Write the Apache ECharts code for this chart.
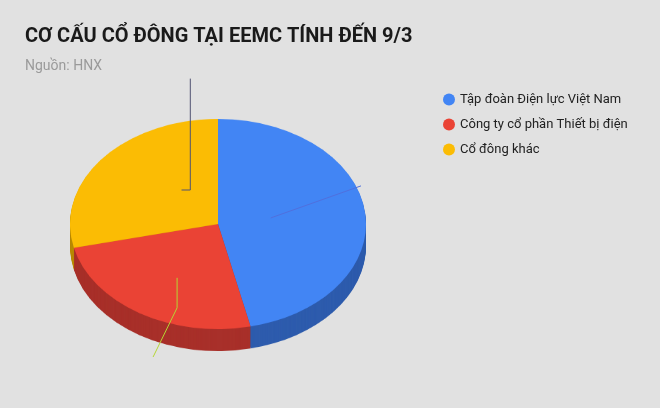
<!DOCTYPE html>
<html><head><meta charset="utf-8">
<script src="https://cdn.jsdelivr.net/npm/echarts@6/dist/echarts.min.js"></script>
<style>
html,body{margin:0;padding:0;background:#e1e1e1;}
#wrap{position:relative;width:660px;height:408px;overflow:hidden;}
.layer{position:absolute;}
</style></head><body><div id="wrap"><div id="main" class="layer" style="left:0;top:0;width:660px;height:408px"></div></div>
<script>
const categories = ['Tập đoàn Điện lực Việt Nam', 'Công ty cổ phần Thiết bị điện', 'Cổ đông khác'];
const values = [46.47, 24.89, 28.64];
const topColors = ['#4285f4', '#ea4335', '#fbbc04'];
const sideColors = ['#2e5cad', '#a8302a', '#b98a05'];

const wrap = document.getElementById('wrap');
const CX = 218, CY = 224, R = 148, S = 0.71, DEPTH = 22, SIZE = 300;
const data = categories.map((c, i) => ({ name: c, value: values[i] }));

// base chart: title + legend
const main = echarts.init(document.getElementById('main'));
main.setOption({
  backgroundColor: '#e1e1e1',
  title: {
    text: 'CƠ CẤU CỔ ĐÔNG TẠI EEMC TÍNH ĐẾN 9/3', left: 20, top: 22,
    textStyle: { fontFamily: 'Roboto', fontWeight: 'bold', fontSize: 20, color: '#1a1a1a' },
    subtext: 'Nguồn: HNX', subtextStyle: { fontFamily: 'Roboto', fontSize: 14, color: '#9a9a9a' }, itemGap: 12
  },
  legend: {
    orient: 'vertical', left: 438, top: 88, icon: 'circle', itemWidth: 12, itemHeight: 12, itemGap: 12,
    textStyle: { fontFamily: 'Roboto', fontSize: 13, color: '#222' }, data: categories
  },
  color: topColors,
  series: [{ type: 'pie', radius: [0, 0], center: [-50, -50], label: { show: false }, silent: true, data: data }]
});

function pieLayer(topOffset, colors, z) {
  const d = document.createElement('div');
  d.className = 'layer';
  d.style.cssText = `left:${CX - SIZE / 2}px;top:${CY - SIZE / 2 + topOffset}px;width:${SIZE}px;height:${SIZE}px;transform:scaleY(${S});transform-origin:50% 50%;z-index:${z}`;
  wrap.appendChild(d);
  const c = echarts.init(d);
  c.setOption({
    animation: false,
    color: colors,
    series: [{ type: 'pie', radius: [0, R], center: ['50%', '50%'], startAngle: 90, silent: true,
      label: { show: false }, itemStyle: { borderWidth: 0 }, data: data }]
  });
}
for (let k = DEPTH; k > 0; k -= 1) pieLayer(k, sideColors, 2);
pieLayer(0, topColors, 3);

// label overlay (unscaled)
const ld = document.createElement('div');
ld.className = 'layer';
ld.style.cssText = `left:${CX - SIZE / 2}px;top:${CY - SIZE / 2}px;width:${SIZE}px;height:${SIZE}px;z-index:4`;
wrap.appendChild(ld);
const lc = echarts.init(ld);
lc.setOption({
  animation: false,
  series: [{ type: 'pie', radius: [0, R], center: ['50%', '50%'], startAngle: 90, silent: true,
    itemStyle: { opacity: 0 },
    label: { show: true, position: 'inside', formatter: p => p.value.toFixed(2).replace('.', ',') + '%',
      fontFamily: 'Roboto', fontSize: 15, color: '#222' },
    labelLayout: function (p) {
      const r = p.labelRect; const mx = r.x + r.width / 2, my = r.y + r.height / 2;
      return { x: mx, y: SIZE / 2 + (my - SIZE / 2) * S, align: 'center', verticalAlign: 'middle' };
    },
    data: data }]
});
</script></body></html>
